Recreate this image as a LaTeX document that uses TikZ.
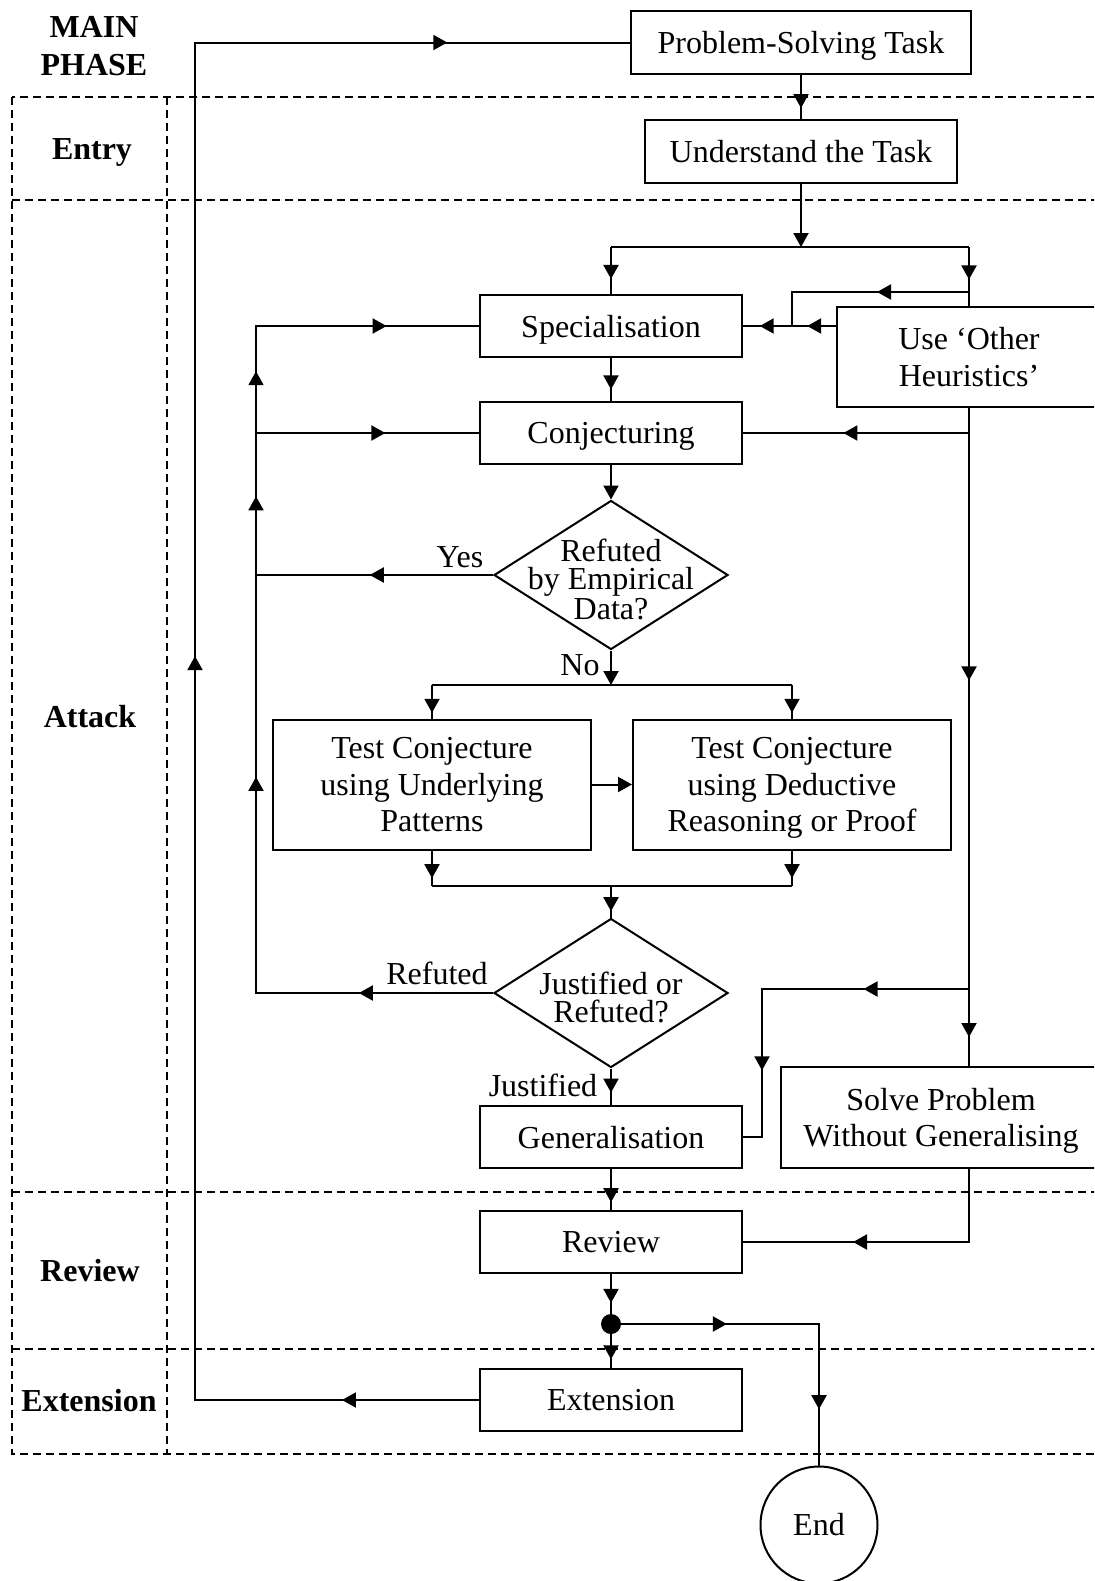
\documentclass[tikz,border=0pt]{standalone}
\usepackage{fontspec}
\setmainfont{Liberation Serif}
\usetikzlibrary{arrows.meta,shapes.geometric,decorations.markings}
\tikzset{
  >={Triangle[length=7pt,width=7.5pt]},
  conn/.style={line width=1pt},
  box/.style={draw,line width=1pt,minimum width=#1,minimum height=31pt,inner sep=0pt,
    text depth=0pt,align=center,font=\fontsize{16}{18.2}\selectfont},
  box/.default=131pt,
  dia/.style={draw,diamond,line width=1pt,minimum width=117pt,minimum height=74.5pt,inner sep=0pt},
  dlab/.style={align=center,inner sep=0pt,yshift=-2pt,font=\fontsize{16}{14}\selectfont},
  tag/.style={inner sep=0pt,font=\fontsize{16}{18}\selectfont},
  phase/.style={align=center,inner sep=0pt,text depth=0pt,font=\fontsize{16}{19}\selectfont\bfseries},
  zone/.style={line width=0.75pt,dash pattern=on 4pt off 2.5pt},
  marr/.style={postaction={decorate,decoration={markings,
    mark=at position #1 with {\arrow{>}}}}},
}
\begin{document}
\begin{tikzpicture}[x=0.5pt,y=-0.5pt]
  \useasboundingbox (0,0) rectangle (1094,1581);
  \clip (0,0) rectangle (1094,1581);
  % phase frame
  \draw[zone] (12,97) rectangle (1120,1454);
  \draw[zone] (167,97) -- (167,1454);
  \foreach \y in {200,1192,1349} \draw[zone] (12,\y) -- (1120,\y);
  \node[phase] (ph) at (94,46) {MAIN\\PHASE};
  \node[phase] (entry) at (92,149) {Entry};
  \node[phase] (attack) at (90,716) {Attack};
  \node[phase] (review) at (90,1270) {Review};
  \node[phase] (extension) at (89,1400) {Extension};
  % steps
  \node[box=170pt,minimum height=31.5pt] (pst) at (801,42.5) {Problem-Solving Task};
  \node[box=156pt,minimum height=31.5pt] (ut) at (801,151) {Understand the Task};
  \node[box] (spec) at (611,326) {Specialisation};
  \node[box=132pt,minimum height=50pt] (uoh) at (969,357) {Use ‘Other\\Heuristics’};
  \node[box] (conj) at (611,433) {Conjecturing};
  \node[dia,label={[dlab]center:Refuted\\by Empirical\\Data?}] (d1) at (611,575) {};
  \node[box=159pt,minimum height=65pt] (t1) at (432,784.5) {Test Conjecture\\using Underlying\\Patterns};
  \node[box=159pt,minimum height=65pt] (t2) at (792,784.5) {Test Conjecture\\using Deductive\\Reasoning or Proof};
  \node[dia,label={[dlab]center:Justified or\\Refuted?}] (d2) at (611,993) {};
  \node[box] (gen) at (611,1137) {Generalisation};
  \node[box=160pt,minimum height=50.5pt] (solve) at (941,1117.5) {Solve Problem\\Without Generalising};
  \node[box] (rev) at (611,1242) {Review};
  \node[circle,fill,minimum size=10pt,inner sep=0pt] (dot) at (611,1324) {};
  \node[box] (ext) at (611,1400) {Extension};
  \node[draw,circle,line width=1pt,minimum size=58.5pt,inner sep=0pt,
    font=\fontsize{16}{18}\selectfont] (fin) at (819,1525) {End};
  \coordinate (s1) at (801,247);
  \coordinate (lp) at (792,292);
  \coordinate (g1) at (762,989);
  \coordinate (s2) at (611,685);
  \coordinate (s3) at (611,886);
  \coordinate (lx) at (256,0);
  \coordinate (ox) at (195,0);
  % entry
  \draw[conn,marr=0.76] (pst) -- (ut);
  \draw[conn,->] (ut) -- (s1);
  \draw[conn] (s1 -| spec.north) -- (s1 -| uoh.north);
  \draw[conn,marr=0.68] (s1 -| spec.north) -- (spec.north);
  \draw[conn,marr=0.55] (s1 -| uoh.north) -- (uoh.north);
  % other heuristics
  \draw[conn,marr=0.436] (lp -| uoh.north) -- (lp) -- (lp |- spec.east);
  \draw[conn,marr=0.31,marr=0.82] (spec.east -| uoh.west) -- (spec.east);
  \draw[conn,marr=0.6] (uoh.south) -- (uoh.south |- conj.east) -- (conj.east);
  \draw[conn,marr=0.414,marr=0.956] (uoh.south) -- (uoh.south |- solve.north);
  \draw[conn,marr=0.282,marr=0.771] (g1 -| uoh.south) -- (g1) -- (g1 |- gen.east) -- (gen.east);
  \draw[conn,marr=0.632] (solve.south -| uoh.south) -- (uoh.south |- rev.east) -- (rev.east);
  % attack
  \draw[conn,marr=0.73] (spec) -- (conj);
  \draw[conn,->] (conj) -- (d1);
  \draw[conn,marr=0.52] (d1.west) -- (d1.west -| lx);
  \node[tag] (yes) at (460,557) {Yes};
  \draw[conn,marr=0.119,marr=0.402,marr=0.651,marr=0.762,marr=0.918]
    (d2.west) -- (d2.west -| lx) -- (spec.west -| lx) -- (spec.west);
  \draw[conn,marr=0.58] (conj.west -| lx) -- (conj.west);
  \node[tag] (refuted) at (437,973) {Refuted};
  \draw[conn,->] (d1) -- (s2);
  \node[tag] (no) at (580,665) {No};
  \draw[conn] (s2 -| t1.north) -- (s2 -| t2.north);
  \foreach \tb in {t1,t2} {
    \draw[conn,marr=0.83] (s2 -| \tb.north) -- (\tb.north);
    \draw[conn,marr=0.78] (\tb.south) -- (s3 -| \tb.south);
  }
  \draw[conn] (s3 -| t1.south) -- (s3 -| t2.south);
  \draw[conn,->] (t1) -- (t2);
  \draw[conn,marr=0.8] (s3) -- (d2);
  \draw[conn,marr=0.66] (d2) -- (gen);
  \node[tag] (just) at (543,1085) {Justified};
  % review and extension
  \draw[conn,marr=0.81] (gen) -- (rev);
  \draw[conn,marr=0.73] (rev) -- (dot);
  \draw[conn,marr=0.74] (dot) -- (ext);
  \draw[conn,marr=0.311,marr=0.834] (dot) -- (dot -| fin) -- (fin);
  \draw[conn,marr=0.066,marr=0.495,marr=0.912]
    (ext.west) -- (ext.west -| ox) -- (ox |- pst.west) -- (pst.west);
\end{tikzpicture}
\end{document}
